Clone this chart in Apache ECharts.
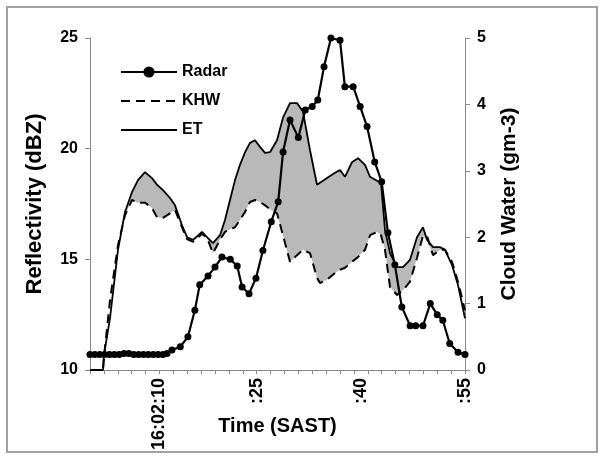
<!DOCTYPE html>
<html>
<head>
<meta charset="utf-8">
<script src="https://cdn.jsdelivr.net/npm/echarts@6/dist/echarts.min.js"></script>
<style>
  html, body { margin: 0; padding: 0; background: #fff; }
  #chart { width: 599px; height: 459px; }
</style>
</head>
<body>
<div id="chart"></div>
<script>
// time in seconds after 16:02:00
const radarTime = [1, 1.7, 2.4, 3.1, 3.8, 4.5, 5.2, 5.9, 6.6, 7.3, 8.0, 8.7, 9.4, 10.1, 10.8, 11.5, 12.1,
  12.8, 14.0, 15.1, 16.1, 16.8, 18.0, 19.0, 20.0, 21.2, 22.2, 22.9, 23.9, 24.9, 25.9, 27.1, 28.1,
  28.8, 29.8, 31.0, 32.0, 33.0, 33.8, 34.7, 35.7, 37.0, 37.7, 38.9, 39.9, 40.9, 42.0, 43.0, 43.9,
  44.9, 45.9, 47.1, 47.9, 48.95, 50.0, 51.0, 51.8, 52.8, 54.0, 55.0]
const radarDbz = [10.7, 10.7, 10.7, 10.7, 10.7, 10.7, 10.7, 10.75, 10.75, 10.7, 10.7, 10.7, 10.7, 10.7, 10.7, 10.7, 10.75,
  10.9, 11.05, 11.5, 12.7, 13.85, 14.25, 14.65, 15.1, 15.0, 14.7, 13.75, 13.45, 14.15, 15.4, 16.7, 17.6,
  19.85, 21.3, 20.5, 21.75, 21.9, 22.2, 23.7, 25.0, 24.9, 22.8, 22.8, 21.9, 21.0, 19.4, 18.5, 16.2,
  14.75, 12.85, 12.0, 12.0, 12.0, 13.0, 12.5, 12.25, 11.2, 10.8, 10.7]

// cloud water (gm-3), KHW and ET share one time base
const cwTime = [1.0, 2.87, 3.02, 3.88, 5.03, 6.04, 7.05, 7.91, 8.92, 9.93, 10.65, 11.51, 12.52, 13.24,
  14.25, 14.97, 15.83, 17.13, 17.85, 18.71, 19.72, 20.44, 21.16, 21.88, 22.6, 23.32, 24.04, 24.76,
  25.48, 26.2, 26.92, 27.93, 28.79, 29.8, 30.81, 31.67, 32.68, 33.69, 34.12, 35.13, 36.28, 37.0,
  37.72, 38.73, 39.59, 40.6, 41.32, 42.33, 42.9, 43.48, 44.2, 45.21, 46.07, 47.08, 48.09, 48.95,
  49.53, 50.39, 51.4, 52.12, 53.13, 53.99, 55.0]
const etCw = [0, 0, 0.23, 0.78, 1.81, 2.38, 2.68, 2.86, 2.98, 2.89, 2.79, 2.71, 2.59, 2.48,
  2.18, 2.0, 1.96, 2.08, 2.0, 1.91, 2.03, 2.26, 2.56, 2.86, 3.09, 3.28, 3.42, 3.46,
  3.36, 3.27, 3.28, 3.46, 3.8, 4.02, 4.02, 3.89, 3.31, 2.79, 2.82, 2.89, 2.97, 3.01,
  2.91, 3.13, 3.19, 3.09, 2.91, 2.85, 2.82, 2.11, 1.76, 1.55, 1.55, 1.66, 2.0, 2.15,
  1.96, 1.85, 1.85, 1.81, 1.58, 1.28, 0.78]
const khwCw = [0, 0, 0.2, 1.05, 1.88, 2.33, 2.56, 2.52, 2.52, 2.44, 2.3, 2.29, 2.36, 2.41,
  2.15, 1.97, 1.93, 2.05, 1.99, 1.76, 1.96, 2.08, 2.12, 2.15, 2.26, 2.38, 2.53, 2.56,
  2.53, 2.48, 2.42, 2.36, 2.03, 1.63, 1.73, 1.81, 1.76, 1.39, 1.31, 1.36, 1.46, 1.51,
  1.54, 1.63, 1.7, 1.81, 2.03, 2.08, 2.03, 1.81, 1.25, 1.13, 1.2, 1.33, 1.69, 2.02,
  2.02, 1.73, 1.81, 1.81, 1.63, 1.33, 0.9]

const tickSecs = []
for (let s = 1; s <= 55; s += 2) tickSecs.push(s)
const labelSecs = [11, 25, 40, 55]
const labelText = ['16:02:10', ':25', ':40', ':55']

const font = "'Liberation Sans', Arial, sans-serif"

const pair = (xs, ys) => xs.map((x, i) => [x, ys[i]])

// grey band between ET (top) and KHW (bottom)
const renderGap = (params, api) => {
  const top = cwTime.map((t, i) => api.coord([t, etCw[i]]))
  const bottom = cwTime.map((t, i) => api.coord([t, Math.min(etCw[i], khwCw[i])])).reverse()
  return {
    type: 'polygon',
    shape: { points: top.concat(bottom) },
    style: { fill: '#b9b9b9' }
  }
}

const myChart = echarts.init(document.getElementById('chart'))
const nameStyle = { fontFamily: font, fontWeight: 'bold', fontSize: 21, color: '#000' }
const labelStyle = { fontFamily: font, fontWeight: 'bold', fontSize: 16, color: '#000' }
const option = {
  backgroundColor: '#fff',
  animation: false,
  textStyle: { fontFamily: font, color: '#000' },
  graphic: [{
    type: 'rect',
    shape: { x: 7, y: 7, width: 590, height: 445 },
    style: { fill: 'none', stroke: '#a0a0a0', lineWidth: 2 },
    silent: true
  }],
  grid: { left: 90, right: 134, top: 38, bottom: 89 },
  legend: {
    data: [
      { name: 'Radar' },
      { name: 'KHW', itemStyle: { opacity: 0 } },
      { name: 'ET', itemStyle: { opacity: 0 } }
    ],
    orient: 'vertical',
    left: 115,
    top: 59,
    itemWidth: 56,
    itemHeight: 14,
    itemGap: 13,
    textStyle: { fontFamily: font, fontWeight: 'bold', fontSize: 16, color: '#000' }
  },
  xAxis: {
    type: 'value',
    min: 1,
    max: 55,
    name: 'Time (SAST)',
    nameLocation: 'middle',
    nameGap: 46,
    nameMoveOverlap: false,
    nameTextStyle: { fontFamily: font, fontWeight: 'bold', fontSize: 20, color: '#000' },
    axisLine: { lineStyle: { color: '#888', width: 1 } },
    axisTick: { customValues: tickSecs, length: 4, lineStyle: { color: '#888' } },
    axisLabel: {
      customValues: labelSecs,
      rotate: 90,
      margin: 8,
      fontFamily: font, fontWeight: 'bold', fontSize: 18, color: '#000',
      formatter: v => labelText[labelSecs.indexOf(v)] || ''
    },
    splitLine: { show: false }
  },
  yAxis: [{
    type: 'value',
    min: 10,
    max: 25,
    interval: 5,
    name: 'Reflectivity (dBZ)',
    nameLocation: 'middle',
    nameRotate: 90,
    nameGap: 44,
    nameMoveOverlap: false,
    nameTextStyle: Object.assign({}, nameStyle, { fontSize: 22 }),
    axisLine: { show: true, lineStyle: { color: '#888', width: 1 } },
    axisTick: { show: true, length: 5, lineStyle: { color: '#888' } },
    axisLabel: Object.assign({ margin: 12 }, labelStyle),
    splitLine: { show: false }
  }, {
    type: 'value',
    min: 0,
    max: 5,
    interval: 1,
    name: 'Cloud Water (gm-3)',
    nameLocation: 'middle',
    nameRotate: 90,
    nameGap: 34,
    nameMoveOverlap: false,
    nameTextStyle: nameStyle,
    axisLine: { show: true, lineStyle: { color: '#888', width: 1 } },
    axisTick: { show: true, length: 5, lineStyle: { color: '#888' } },
    axisLabel: Object.assign({ margin: 12 }, labelStyle),
    splitLine: { show: false }
  }],
  series: [
    {
      name: 'gap',
      type: 'custom',
      yAxisIndex: 1,
      data: [[cwTime[0], 0]],
      renderItem: renderGap,
      silent: true,
      z: 1
    },
    {
      name: 'KHW',
      type: 'line',
      yAxisIndex: 1,
      data: pair(cwTime, khwCw),
      symbol: 'none',
      color: '#000',
      lineStyle: { color: '#000', width: 2, type: [9, 6] },
      z: 3
    },
    {
      name: 'ET',
      type: 'line',
      yAxisIndex: 1,
      data: pair(cwTime, etCw),
      symbol: 'none',
      color: '#000',
      lineStyle: { color: '#000', width: 1.8 },
      z: 3
    },
    {
      name: 'Radar',
      type: 'line',
      yAxisIndex: 0,
      data: pair(radarTime, radarDbz),
      symbol: 'circle',
      symbolSize: 7,
      color: '#000',
      itemStyle: { color: '#000' },
      lineStyle: { color: '#000', width: 2.2 },
      z: 4
    }
  ]
}
myChart.setOption(option)
</script>
</body>
</html>
